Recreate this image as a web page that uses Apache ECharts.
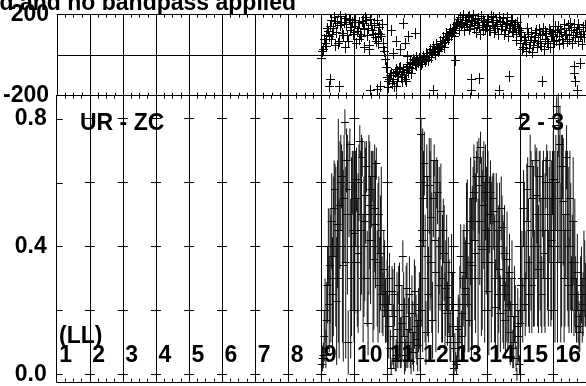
<!DOCTYPE html>
<html><head><meta charset="utf-8">
<script src="https://cdn.jsdelivr.net/npm/echarts@6.0.0/dist/echarts.min.js"></script>
<style>html,body{margin:0;padding:0;background:#fff}#c{width:586px;height:386px}</style>
</head><body><div id="c"></div>
<script>
// ---------- text / categories ----------
const titleText = 'Calibration applied and no bandpass applied';
const baselineName = 'UR - ZC';
const baselineNum = '2 - 3';
const polLabel = '(LL)';
const ifLabels = ['1','2','3','4','5','6','7','8','9','10','11','12','13','14','15','16'];
const phaseLabelValues = [-200, 200];
const ampLabelValues = [0.0, 0.4, 0.8];
const ampTickValues = [0.0, 0.2, 0.4, 0.6, 0.8];

// ---------- phase (deg), two passes of 20 channels per IF ----------
const ph9   = [-14, 30, 60, 95, 115, 140, 80, 130, 165, 110, 60, 145, 160, 95, 180, 150, 70, 170, 135, 100];
const ph9b  = [20, 80, 45, 130, 90, 170, 100, 185, 50, 155, 70, 190, 105, 160, 40, 95, 175, 120, 160, 110];
const ph10  = [141, 60, 133, 160, 90, 157, 40, 170, 130, 50, 149, 100, 145, 70, 108, 135, 91, 59, 20, -60];
const ph10b = [170, 115, 80, 100, 165, 125, 185, 95, 30, 175, 120, 155, 85, 170, 60, 100, 150, 40, -20, -110];
const ph11  = [-131, -120, -90, -100, -155, -73, -80, -65, -110, -131, -98, -75, -48, -60, -90, -40, -24, -50, -30, -15];
const ph11b = [-160, -100, -140, -120, -85, -130, -105, -60, -95, -70, -120, -55, -85, -35, -65, -20, -45, -10, -35, 0];
const ph12  = [-24, -35, -15, -20, 0, 9, -10, 15, 26, 5, 35, 26, 50, 59, 40, 75, 91, 100, 116, 110];
const ph12b = [-45, -5, -30, 10, -25, 30, 0, 45, 15, 55, 20, 70, 45, 85, 65, 105, 80, 125, 95, 130];
const ph13  = [108, 130, 160, 141, 185, 157, 120, 170, 150, 190, 140, 166, 130, 175, 149, 160, 100, 145, 170, 125];
const ph13b = [90, 150, 175, 120, 145, 195, 135, 160, 185, 125, 170, 195, 155, 110, 180, 135, 190, 120, 160, 140];
const ph14  = [141, 175, 120, 160, 185, 130, 150, 100, 165, 140, 180, 124, 155, 90, 145, 170, 110, 150, 75, 130];
const ph14b = [165, 120, 190, 145, 110, 170, 140, 185, 125, 160, 100, 150, 185, 130, 165, 115, 140, 100, 160, 120];
const ph15  = [60, 90, 40, 75, 20, 100, 65, 110, 50, 85, 120, 70, 95, 45, 130, 80, 105, 60, 115, 90];
const ph15b = [110, 30, 85, 55, 130, 35, 90, 15, 75, 105, 40, 125, 60, 100, 30, 115, 70, 125, 40, 100];
const ph16  = [100, 120, 75, 140, 90, 110, 60, 130, 100, 145, 80, 120, 95, 150, 110, 70, 125, 100, 135, 85];
const ph16b = [70, 140, 110, 55, 125, 80, 150, 95, 70, 120, 155, 60, 135, 85, 125, 150, 90, 55, 115, 145];
// scattered phase points (position in IF units, value in deg)
const phExtraPos = [8.28, 8.24, 8.54, 9.49, 9.68, 9.78, 10.13, 10.18, 10.28, 10.38, 10.48, 10.53, 10.59, 10.64, 10.84, 10.28, 10.58, 11.38, 12.04, 12.54, 12.54, 12.79, 13.39, 13.69, 14.69, 15.64, 15.64, 15.69, 15.74, 15.84];
const phExtraVal = [-122, -155, -155, -172, -168, -155, 124, 9, 67, 26, 157, 59, -7, 91, 108, -155, -131, -172, -28, -122, -172, -114, -172, -106, -131, -57, -90, -131, -172, -40];

// ---------- amplitude and its error, two passes of 20 channels per IF ----------
const amp9   = [0.03, 0.06, 0.20, 0.17, 0.40, 0.34, 0.48, 0.37, 0.58, 0.23, 0.45, 0.53, 0.62, 0.34, 0.79, 0.67, 0.10, 0.72, 0.40, 0.45];
const err9   = [0.02, 0.04, 0.10, 0.12, 0.12, 0.18, 0.15, 0.25, 0.08, 0.20, 0.35, 0.20, 0.10, 0.30, 0.04, 0.10, 0.10, 0.05, 0.28, 0.25];
const amp9b  = [0.05, 0.12, 0.08, 0.28, 0.22, 0.30, 0.25, 0.52, 0.40, 0.47, 0.30, 0.60, 0.40, 0.55, 0.35, 0.50, 0.58, 0.30, 0.60, 0.35];
const err9b  = [0.04, 0.08, 0.06, 0.12, 0.15, 0.20, 0.18, 0.15, 0.25, 0.20, 0.25, 0.15, 0.30, 0.20, 0.30, 0.25, 0.15, 0.25, 0.10, 0.25];
const amp10  = [0.44, 0.61, 0.38, 0.73, 0.50, 0.30, 0.48, 0.65, 0.16, 0.53, 0.58, 0.40, 0.52, 0.66, 0.35, 0.28, 0.45, 0.22, 0.30, 0.18];
const err10  = [0.25, 0.10, 0.25, 0.05, 0.25, 0.20, 0.25, 0.08, 0.10, 0.20, 0.12, 0.30, 0.20, 0.05, 0.25, 0.15, 0.20, 0.10, 0.12, 0.08];
const amp10b = [0.55, 0.35, 0.60, 0.45, 0.68, 0.40, 0.56, 0.30, 0.50, 0.42, 0.62, 0.36, 0.47, 0.30, 0.50, 0.38, 0.25, 0.33, 0.20, 0.26];
const err10b = [0.15, 0.20, 0.12, 0.25, 0.06, 0.22, 0.15, 0.15, 0.25, 0.20, 0.08, 0.22, 0.20, 0.15, 0.12, 0.18, 0.12, 0.12, 0.10, 0.10];
const amp11  = [0.22, 0.30, 0.02, 0.18, 0.25, 0.06, 0.14, 0.20, 0.10, 0.37, 0.12, 0.18, 0.08, 0.25, 0.04, 0.13, 0.22, 0.15, 0.09, 0.20];
const err11  = [0.12, 0.08, 0.02, 0.15, 0.10, 0.05, 0.12, 0.15, 0.08, 0.05, 0.12, 0.16, 0.06, 0.12, 0.04, 0.10, 0.14, 0.10, 0.08, 0.12];
const amp11b = [0.15, 0.08, 0.26, 0.12, 0.05, 0.20, 0.28, 0.10, 0.16, 0.22, 0.06, 0.27, 0.14, 0.10, 0.19, 0.07, 0.26, 0.11, 0.17, 0.05];
const err11b = [0.10, 0.06, 0.08, 0.10, 0.04, 0.12, 0.06, 0.08, 0.12, 0.10, 0.05, 0.08, 0.10, 0.08, 0.12, 0.06, 0.08, 0.08, 0.10, 0.04];
const amp12  = [0.75, 0.42, 0.66, 0.13, 0.37, 0.59, 0.49, 0.17, 0.67, 0.32, 0.57, 0.45, 0.51, 0.30, 0.38, 0.27, 0.19, 0.24, 0.12, 0.22];
const err12  = [0.05, 0.35, 0.10, 0.10, 0.25, 0.15, 0.25, 0.12, 0.05, 0.25, 0.10, 0.20, 0.15, 0.20, 0.15, 0.15, 0.10, 0.12, 0.08, 0.10];
const amp12b = [0.45, 0.55, 0.30, 0.62, 0.25, 0.45, 0.35, 0.55, 0.42, 0.60, 0.28, 0.40, 0.22, 0.45, 0.20, 0.35, 0.28, 0.10, 0.32, 0.15];
const err12b = [0.30, 0.15, 0.20, 0.10, 0.15, 0.25, 0.22, 0.12, 0.25, 0.08, 0.15, 0.20, 0.12, 0.10, 0.12, 0.15, 0.15, 0.06, 0.12, 0.08];
const amp13  = [0.02, 0.04, 0.10, 0.14, 0.37, 0.19, 0.32, 0.27, 0.41, 0.17, 0.48, 0.34, 0.57, 0.38, 0.68, 0.59, 0.71, 0.39, 0.53, 0.57];
const err13  = [0.02, 0.03, 0.08, 0.10, 0.10, 0.12, 0.15, 0.15, 0.20, 0.10, 0.20, 0.25, 0.15, 0.25, 0.05, 0.15, 0.05, 0.25, 0.20, 0.15];
const amp13b = [0.08, 0.03, 0.15, 0.22, 0.12, 0.30, 0.25, 0.45, 0.22, 0.35, 0.30, 0.55, 0.42, 0.62, 0.30, 0.48, 0.40, 0.62, 0.35, 0.45];
const err13b = [0.05, 0.03, 0.10, 0.12, 0.08, 0.15, 0.18, 0.15, 0.15, 0.20, 0.25, 0.10, 0.25, 0.08, 0.25, 0.20, 0.28, 0.08, 0.25, 0.20];
const amp14  = [0.60, 0.26, 0.57, 0.40, 0.51, 0.21, 0.45, 0.33, 0.19, 0.46, 0.28, 0.17, 0.36, 0.22, 0.13, 0.30, 0.10, 0.18, 0.00, 0.12];
const err14  = [0.05, 0.20, 0.10, 0.22, 0.12, 0.15, 0.15, 0.20, 0.12, 0.10, 0.20, 0.12, 0.15, 0.12, 0.10, 0.12, 0.08, 0.10, 0.02, 0.08];
const amp14b = [0.45, 0.50, 0.35, 0.55, 0.30, 0.48, 0.25, 0.40, 0.52, 0.30, 0.38, 0.25, 0.20, 0.32, 0.18, 0.08, 0.22, 0.05, 0.15, 0.03];
const err14b = [0.25, 0.12, 0.25, 0.08, 0.20, 0.15, 0.20, 0.20, 0.10, 0.20, 0.15, 0.15, 0.12, 0.12, 0.12, 0.06, 0.12, 0.04, 0.12, 0.03];
const amp15  = [0.16, 0.30, 0.52, 0.22, 0.48, 0.35, 0.65, 0.28, 0.40, 0.67, 0.56, 0.33, 0.45, 0.25, 0.50, 0.38, 0.67, 0.30, 0.55, 0.42];
const err15  = [0.08, 0.15, 0.12, 0.10, 0.18, 0.20, 0.10, 0.15, 0.25, 0.05, 0.15, 0.20, 0.25, 0.12, 0.20, 0.25, 0.05, 0.15, 0.15, 0.25];
const amp15b = [0.28, 0.20, 0.40, 0.30, 0.58, 0.25, 0.45, 0.55, 0.30, 0.50, 0.40, 0.62, 0.35, 0.55, 0.30, 0.60, 0.45, 0.50, 0.35, 0.60];
const err15b = [0.12, 0.10, 0.20, 0.15, 0.10, 0.12, 0.25, 0.12, 0.15, 0.20, 0.25, 0.08, 0.20, 0.12, 0.15, 0.08, 0.25, 0.15, 0.20, 0.10];
const amp16  = [0.61, 0.35, 0.84, 0.78, 0.72, 0.45, 0.54, 0.30, 0.68, 0.40, 0.55, 0.25, 0.48, 0.35, 0.20, 0.18, 0.13, 0.28, 0.22, 0.30];
const err16  = [0.15, 0.25, 0.03, 0.10, 0.12, 0.30, 0.20, 0.15, 0.10, 0.25, 0.15, 0.12, 0.20, 0.20, 0.10, 0.08, 0.06, 0.12, 0.10, 0.12];
const amp16b = [0.45, 0.60, 0.40, 0.55, 0.35, 0.65, 0.30, 0.50, 0.45, 0.28, 0.40, 0.35, 0.30, 0.25, 0.32, 0.15, 0.25, 0.20, 0.30, 0.25];
const err16b = [0.25, 0.15, 0.30, 0.20, 0.25, 0.10, 0.20, 0.20, 0.25, 0.15, 0.20, 0.15, 0.18, 0.12, 0.12, 0.08, 0.12, 0.10, 0.15, 0.10];

// ---------- build data ----------
const phaseBands = [[9, ph9, ph9b], [10, ph10, ph10b], [11, ph11, ph11b], [12, ph12, ph12b], [13, ph13, ph13b], [14, ph14, ph14b], [15, ph15, ph15b], [16, ph16, ph16b]];
const ampBands = [[9, amp9, err9, amp9b, err9b], [10, amp10, err10, amp10b, err10b], [11, amp11, err11, amp11b, err11b], [12, amp12, err12, amp12b, err12b], [13, amp13, err13, amp13b, err13b], [14, amp14, err14, amp14b, err14b], [15, amp15, err15, amp15b, err15b], [16, amp16, err16, amp16b, err16b]];
const phaseData = [];
phaseBands.forEach(([k, a, b]) => {
  a.forEach((y, i) => phaseData.push([(k - 1) + (i + 0.25) / a.length, y]));
  b.forEach((y, i) => phaseData.push([(k - 1) + (i + 0.75) / b.length, y]));
});
phExtraPos.forEach((x, i) => phaseData.push([x, phExtraVal[i]]));
const ampData = [];
ampBands.forEach(([k, a, ea, b, eb]) => {
  a.forEach((y, i) => ampData.push([(k - 1) + (i + 0.25) / a.length, y, ea[i]]));
  b.forEach((y, i) => ampData.push([(k - 1) + (i + 0.75) / b.length, y, eb[i]]));
});
const crossData = [];
for (let k = 1; k < ifLabels.length; k++) ampTickValues.forEach(t => crossData.push([k, t]));
const ifLabelData = ifLabels.map((s, i) => [i, 0, i]);

const FONT = 'Liberation Sans';
const FONTCSS = 'bold 23px "Liberation Sans"';
const txt = { fontFamily: FONT, fontWeight: 'bold', fontSize: 23, color: '#000' };
const black = { color: '#000', width: 1 };
const snap = v => Math.round(v - 0.5) + 0.5;

function xAx(grid, pos, split) {
  return {
    gridIndex: grid, type: 'value', min: 0, max: 16, interval: 1, position: pos,
    axisLine: { show: true, onZero: false, lineStyle: black },
    axisTick: { show: true, inside: true, length: 5, lineStyle: black },
    minorTick: { show: true, splitNumber: 4, length: 3, lineStyle: black },
    axisLabel: { show: false },
    splitLine: { show: split, lineStyle: black }
  };
}

const chart = echarts.init(document.getElementById('c'), null, { renderer: 'canvas' });
chart.setOption({
  animation: false,
  backgroundColor: '#fff',
  grid: [
    { left: 56.7, top: 14.7, width: 533.3, height: 81 },
    { left: 56.7, top: 95.7, width: 533.3, height: 287.3 }
  ],
  xAxis: [xAx(0, 'bottom', true), xAx(0, 'top', false), xAx(1, 'bottom', true), xAx(1, 'top', false)],
  yAxis: [
    {
      gridIndex: 0, type: 'value', min: -200, max: 200, interval: 200,
      axisLine: { show: true, onZero: false, lineStyle: black },
      axisTick: { show: false },
      axisLabel: Object.assign({ margin: 8, customValues: phaseLabelValues, formatter: v => String(v) }, txt),
      splitLine: { show: true, lineStyle: black }
    },
    {
      gridIndex: 1, type: 'value', min: -0.0227, max: 0.8726,
      axisLine: { show: true, onZero: false, lineStyle: black },
      axisTick: { show: true, inside: true, length: 6, customValues: ampTickValues, lineStyle: black },
      axisLabel: Object.assign({ margin: 10, customValues: ampLabelValues, formatter: v => v.toFixed(1) }, txt),
      splitLine: { show: false }
    }
  ],
  graphic: [
    { type: 'text', x: 296, y: 3.5, style: { text: titleText, textAlign: 'right', textVerticalAlign: 'middle', font: FONTCSS, fill: '#000' } },
    { type: 'text', x: 80, y: 124, style: { text: baselineName, textAlign: 'left', textVerticalAlign: 'middle', font: FONTCSS, fill: '#000' } },
    { type: 'text', x: 518, y: 124, style: { text: baselineNum, textAlign: 'left', textVerticalAlign: 'middle', font: FONTCSS, fill: '#000' } },
    { type: 'text', x: 59, y: 337, style: { text: polLabel, textAlign: 'left', textVerticalAlign: 'middle', font: FONTCSS, fill: '#000' } }
  ],
  series: [
    {
      type: 'custom', xAxisIndex: 0, yAxisIndex: 0, data: phaseData, encode: { x: 0, y: 1 }, silent: true,
      renderItem: (p, api) => {
        const c = api.coord([api.value(0), api.value(1)]);
        const x = snap(c[0]), y = snap(c[1]);
        return { type: 'group', children: [
          { type: 'line', shape: { x1: x - 4.5, y1: y, x2: x + 4.5, y2: y }, style: { stroke: '#000', lineWidth: 1 } },
          { type: 'line', shape: { x1: x, y1: y - 5.5, x2: x, y2: y + 5.5 }, style: { stroke: '#000', lineWidth: 1 } }
        ] };
      }
    },
    {
      type: 'custom', xAxisIndex: 2, yAxisIndex: 1, data: ampData, encode: { x: 0, y: 1 }, silent: true,
      renderItem: (p, api) => {
        const x = api.value(0), y = api.value(1), e = api.value(2);
        const c = api.coord([x, y]), lo = api.coord([x, y - e]), hi = api.coord([x, y + e]);
        const yy = snap(c[1]);
        return { type: 'group', children: [
          { type: 'line', shape: { x1: c[0], y1: lo[1], x2: c[0], y2: hi[1] }, style: { stroke: '#111', lineWidth: 1 } },
          { type: 'line', shape: { x1: c[0] - 4, y1: yy, x2: c[0] + 4, y2: yy }, style: { stroke: '#000', lineWidth: 1 } }
        ] };
      }
    },
    {
      type: 'custom', xAxisIndex: 2, yAxisIndex: 1, data: crossData, encode: { x: 0, y: 1 }, silent: true,
      renderItem: (p, api) => {
        const c = api.coord([api.value(0), api.value(1)]);
        const y = snap(c[1]);
        return { type: 'line', shape: { x1: c[0] - 5, y1: y, x2: c[0] + 5, y2: y }, style: { stroke: '#000', lineWidth: 1 } };
      }
    },
    {
      type: 'custom', xAxisIndex: 2, yAxisIndex: 1, data: ifLabelData, encode: { x: 0, y: 1 }, silent: true, z: 5,
      renderItem: (p, api) => {
        const c = api.coord([api.value(0), api.value(1)]);
        return { type: 'text', x: c[0] + 2.5, y: c[1] - 19,
          style: { text: ifLabels[api.value(2)], textAlign: 'left', textVerticalAlign: 'middle', font: FONTCSS, fill: '#000' } };
      }
    }
  ]
});
</script></body></html>
